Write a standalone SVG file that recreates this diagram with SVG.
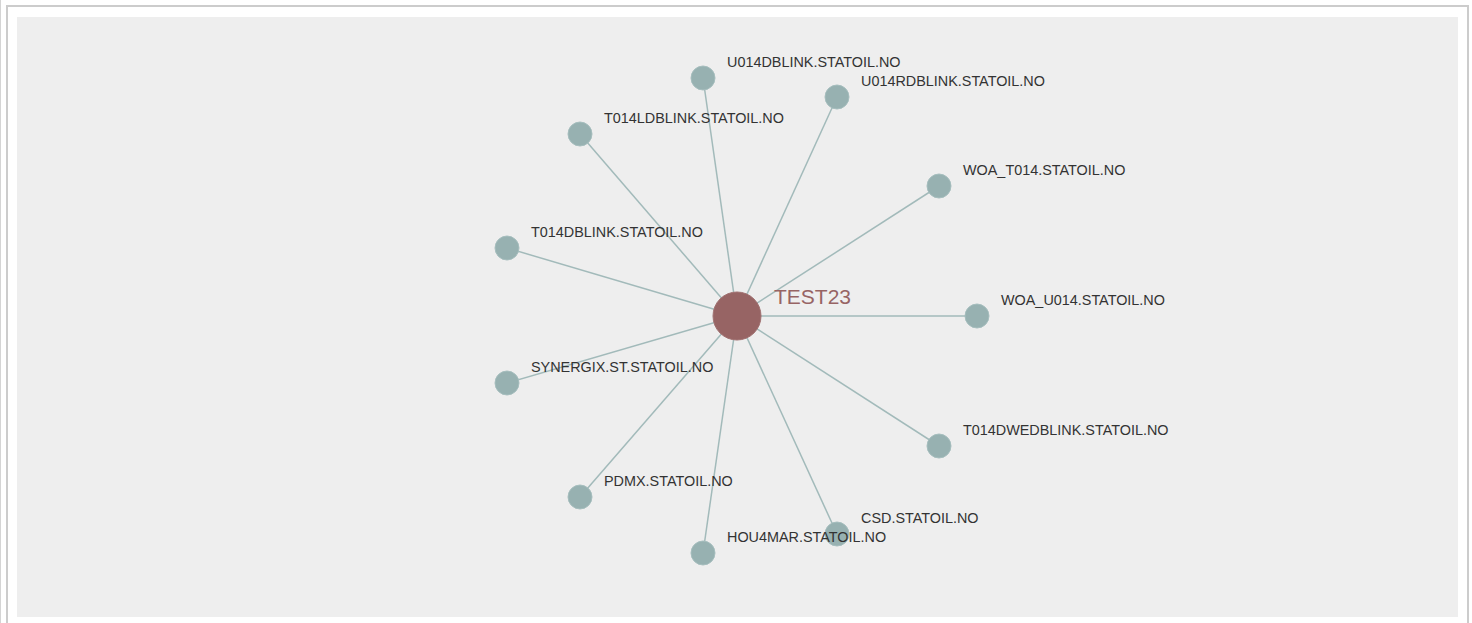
<svg xmlns="http://www.w3.org/2000/svg" width="1472" height="623" viewBox="0 0 1472 623">
<style>
.edge{stroke:#a2baba;stroke-width:1.5;fill:none}
.leaf{fill:#97b1b1;stroke:#a6bebe;stroke-width:1}
.lbl{font-family:"Liberation Sans",Arial,sans-serif;font-size:14.4px;fill:#333}
.center{fill:#976464;stroke:#a07070;stroke-width:1}
.clbl{font-family:"Liberation Sans",Arial,sans-serif;font-size:21px;fill:#976464}
</style>
<rect x="0" y="0" width="1472" height="623" fill="#fff"/>
<line x1="0.5" y1="0" x2="0.5" y2="623" stroke="#d4d4d4" stroke-width="1"/>
<rect x="7" y="6" width="1461" height="640" fill="#fff" stroke="#cccccc" stroke-width="2"/>
<rect x="17" y="17" width="1441" height="600" fill="#eeeeee"/>
<g id="connectors">
<line class="edge" x1="737" y1="316" x2="703" y2="78"/>
<line class="edge" x1="737" y1="316" x2="837" y2="97"/>
<line class="edge" x1="737" y1="316" x2="580" y2="134"/>
<line class="edge" x1="737" y1="316" x2="939" y2="186"/>
<line class="edge" x1="737" y1="316" x2="507" y2="248"/>
<line class="edge" x1="737" y1="316" x2="977" y2="316"/>
<line class="edge" x1="737" y1="316" x2="507" y2="383"/>
<line class="edge" x1="737" y1="316" x2="939" y2="446"/>
<line class="edge" x1="737" y1="316" x2="580" y2="497"/>
<line class="edge" x1="737" y1="316" x2="837" y2="534"/>
<line class="edge" x1="737" y1="316" x2="703" y2="553"/>
</g>
<g id="n-u014dblink"><circle class="leaf" cx="703" cy="78" r="12"/><text class="lbl" x="727" y="67">U014DBLINK.STATOIL.NO</text></g>
<g id="n-u014rdblink"><circle class="leaf" cx="837" cy="97" r="12"/><text class="lbl" x="861" y="86">U014RDBLINK.STATOIL.NO</text></g>
<g id="n-t014ldblink"><circle class="leaf" cx="580" cy="134" r="12"/><text class="lbl" x="604" y="123">T014LDBLINK.STATOIL.NO</text></g>
<g id="n-woa-t014"><circle class="leaf" cx="939" cy="186" r="12"/><text class="lbl" x="963" y="175">WOA_T014.STATOIL.NO</text></g>
<g id="n-t014dblink"><circle class="leaf" cx="507" cy="248" r="12"/><text class="lbl" x="531" y="237">T014DBLINK.STATOIL.NO</text></g>
<g id="n-woa-u014"><circle class="leaf" cx="977" cy="316" r="12"/><text class="lbl" x="1001" y="305">WOA_U014.STATOIL.NO</text></g>
<g id="n-synergix"><circle class="leaf" cx="507" cy="383" r="12"/><text class="lbl" x="531" y="372">SYNERGIX.ST.STATOIL.NO</text></g>
<g id="n-t014dwedblink"><circle class="leaf" cx="939" cy="446" r="12"/><text class="lbl" x="963" y="435">T014DWEDBLINK.STATOIL.NO</text></g>
<g id="n-pdmx"><circle class="leaf" cx="580" cy="497" r="12"/><text class="lbl" x="604" y="486">PDMX.STATOIL.NO</text></g>
<g id="n-csd"><circle class="leaf" cx="837" cy="534" r="12"/><text class="lbl" x="861" y="523">CSD.STATOIL.NO</text></g>
<g id="n-hou4mar"><circle class="leaf" cx="703" cy="553" r="12"/><text class="lbl" x="727" y="542">HOU4MAR.STATOIL.NO</text></g>
<g id="n-test23"><circle class="center" cx="737" cy="316" r="24"/><text class="clbl" x="774" y="304">TEST23</text></g>
</svg>
